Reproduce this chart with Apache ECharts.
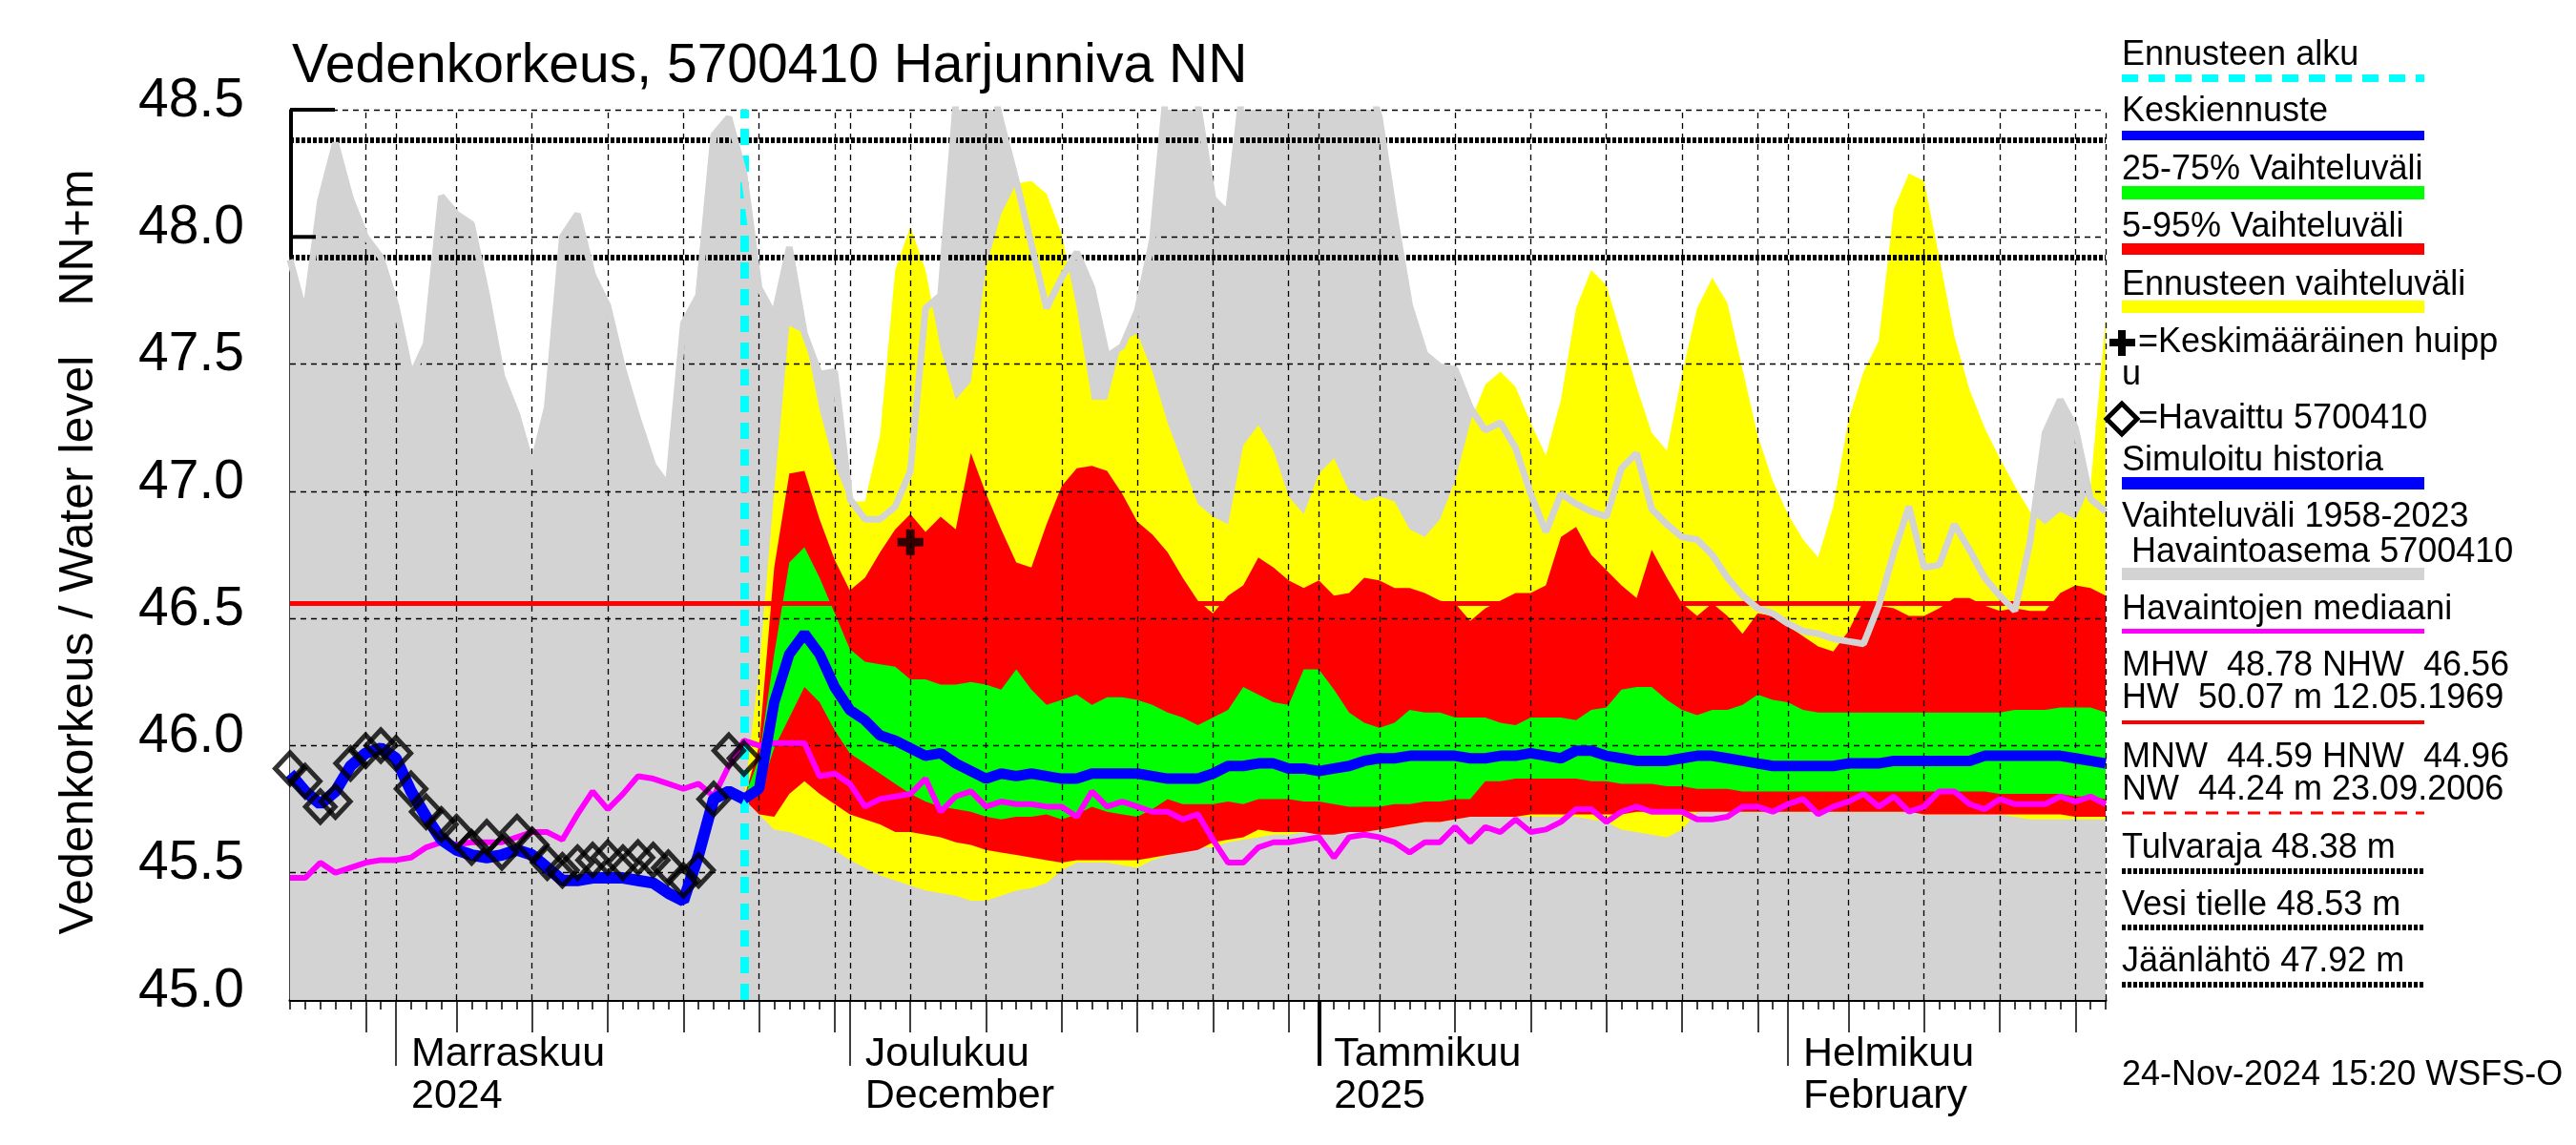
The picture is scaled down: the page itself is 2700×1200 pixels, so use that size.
<!DOCTYPE html>
<html>
<head>
<meta charset="utf-8">
<script src="https://cdn.jsdelivr.net/npm/echarts@6/dist/echarts.min.js"></script>
<style>html,body{margin:0;padding:0;background:#fff}#c{width:2700px;height:1200px}</style>
</head>
<body>
<div id="c"></div>
<script>
// ---- data (day index 0 = 25.10.2024, one value per day) ----
const startDate = '2024-10-25';
const histMax = [
47.91,47.69,48.14,48.37,48.15,48.00,47.92,47.73,47.45,47.58,
48.16,48.09,48.05,47.77,47.45,47.30,47.09,47.33,48.00,48.09,
47.85,47.73,47.48,47.28,47.10,47.02,47.66,47.77,48.40,48.47,
48.25,47.80,47.69,47.96,47.62,47.46,47.47,46.97,46.89,46.89,
46.94,47.08,47.72,47.77,48.52,48.80,48.70,48.45,48.22,47.97,
47.72,47.84,47.94,47.80,47.53,47.57,47.71,47.99,48.63,48.80,
48.52,48.15,48.09,48.60,48.90,49.10,49.00,48.95,48.80,48.85,
48.90,48.67,48.47,48.08,47.73,47.54,47.49,47.48,47.33,47.24,
47.27,47.17,46.99,46.84,46.99,46.95,46.92,46.90,47.09,47.15,
46.93,46.87,46.82,46.81,46.75,46.66,46.59,46.54,46.52,46.48,
46.45,46.44,46.42,46.41,46.40,46.55,46.76,46.94,46.70,46.71,
46.87,46.77,46.66,46.59,46.53,46.80,47.23,47.36,47.25,46.97,
46.92];
const obsMedian = [
45.48,45.48,45.54,45.50,45.52,45.54,45.55,45.55,45.56,45.60,
45.62,45.61,45.62,45.62,45.62,45.64,45.66,45.66,45.63,45.73,
45.82,45.75,45.81,45.88,45.87,45.85,45.83,45.85,45.80,45.92,
46.02,46.00,46.01,46.01,46.01,45.88,45.89,45.85,45.76,45.79,
45.80,45.81,45.87,45.74,45.80,45.82,45.76,45.78,45.77,45.77,
45.76,45.76,45.72,45.82,45.76,45.78,45.76,45.74,45.74,45.71,
45.73,45.63,45.54,45.54,45.60,45.62,45.62,45.63,45.64,45.56,
45.64,45.65,45.64,45.62,45.58,45.62,45.62,45.68,45.62,45.68,
45.66,45.71,45.66,45.67,45.70,45.75,45.75,45.70,45.74,45.76,
45.74,45.74,45.74,45.71,45.71,45.72,45.76,45.76,45.74,45.77,
45.79,45.73,45.76,45.78,45.81,45.76,45.80,45.74,45.76,45.82,
45.82,45.77,45.75,45.79,45.77,45.77,45.77,45.80,45.78,45.80,
45.77];
const simHistory = [
45.89,45.82,45.77,45.82,45.92,45.97,45.99,45.95,45.82,45.72,
45.63,45.59,45.57,45.56,45.57,45.59,45.57,45.52,45.47,45.47,
45.48,45.48,45.48,45.47,45.46,45.42,45.39,45.57,45.79,45.82,
45.79];
const observed = [
45.91,45.86,45.76,45.78,45.93,45.98,46.00,45.97,45.83,45.74,
45.69,45.66,45.60,45.64,45.58,45.66,45.61,45.54,45.51,45.54,
45.55,45.56,45.54,45.56,45.55,45.52,45.47,45.51,45.79,45.98,
45.95];
const fcStartDay = 30;   // 24.11.2024
const fcMedian = [
45.79,45.83,46.17,46.36,46.44,46.36,46.23,46.14,46.10,46.04,
46.02,45.99,45.96,45.97,45.93,45.90,45.87,45.89,45.88,45.89,
45.88,45.87,45.87,45.89,45.89,45.89,45.89,45.88,45.87,45.87,
45.87,45.89,45.92,45.92,45.93,45.93,45.91,45.91,45.90,45.91,
45.92,45.94,45.95,45.95,45.96,45.96,45.96,45.96,45.95,45.95,
45.96,45.96,45.97,45.96,45.95,45.98,45.98,45.96,45.95,45.94,
45.94,45.94,45.95,45.96,45.96,45.95,45.94,45.93,45.92,45.92,
45.92,45.92,45.92,45.93,45.93,45.93,45.94,45.94,45.94,45.94,
45.94,45.94,45.96,45.96,45.96,45.96,45.96,45.96,45.95,45.94,
45.93];
const fcMax = [
45.79,46.30,47.00,47.65,47.62,47.32,47.10,46.96,46.96,47.22,
47.87,48.04,47.87,47.56,47.36,47.43,47.88,48.09,48.21,48.22,
48.17,48.01,47.72,47.36,47.36,47.59,47.62,47.47,47.27,47.11,
46.95,46.90,46.87,47.18,47.26,47.16,46.98,46.91,47.07,47.13,
47.00,46.96,46.98,46.96,46.85,46.82,46.89,47.04,47.27,47.42,
47.47,47.41,47.27,47.14,47.36,47.72,47.87,47.81,47.61,47.41,
47.23,47.16,47.46,47.72,47.84,47.74,47.48,47.22,47.04,46.91,
46.81,46.74,46.94,47.28,47.47,47.59,48.11,48.25,48.22,47.92,
47.61,47.40,47.25,47.13,47.02,46.92,46.87,46.92,46.89,47.02,
47.68];
const fcMin = [
45.79,45.73,45.67,45.66,45.64,45.62,45.59,45.55,45.52,45.49,
45.47,45.45,45.43,45.42,45.41,45.39,45.39,45.41,45.43,45.44,
45.46,45.51,45.54,45.54,45.54,45.53,45.52,45.55,45.57,45.59,
45.60,45.60,45.62,45.63,45.64,45.65,45.65,45.66,45.66,45.66,
45.66,45.66,45.67,45.68,45.69,45.70,45.70,45.71,45.72,45.72,
45.72,45.72,45.72,45.72,45.72,45.72,45.71,45.70,45.67,45.66,
45.65,45.64,45.67,45.74,45.74,45.74,45.74,45.74,45.74,45.74,
45.74,45.74,45.74,45.74,45.74,45.74,45.74,45.74,45.73,45.73,
45.73,45.73,45.73,45.73,45.72,45.71,45.71,45.71,45.71,45.71,
45.71];
const fc95 = [
45.79,46.00,46.70,47.07,47.08,46.89,46.73,46.61,46.66,46.76,
46.85,46.91,46.84,46.90,46.85,47.15,46.99,46.85,46.72,46.70,
46.87,47.02,47.09,47.10,47.08,46.99,46.88,46.83,46.76,46.66,
46.57,46.52,46.59,46.63,46.74,46.70,46.65,46.62,46.65,46.59,
46.60,46.66,46.65,46.62,46.62,46.60,46.57,46.56,46.49,46.54,
46.57,46.60,46.60,46.63,46.82,46.86,46.75,46.69,46.63,46.58,
46.77,46.66,46.56,46.51,46.56,46.51,46.44,46.52,46.51,46.47,
46.43,46.39,46.37,46.45,46.57,46.55,46.54,46.51,46.51,46.54,
46.58,46.58,46.55,46.53,46.54,46.53,46.53,46.60,46.63,46.62,
46.59];
const fc5 = [
45.79,45.73,45.72,45.81,45.86,45.81,45.77,45.73,45.71,45.69,
45.66,45.66,45.65,45.64,45.62,45.61,45.59,45.58,45.57,45.56,
45.55,45.54,45.55,45.55,45.55,45.55,45.55,45.56,45.57,45.58,
45.59,45.62,45.63,45.64,45.67,45.66,45.66,45.66,45.65,45.65,
45.66,45.66,45.67,45.68,45.69,45.70,45.70,45.71,45.72,45.72,
45.72,45.72,45.73,45.73,45.73,45.73,45.73,45.73,45.73,45.74,
45.74,45.74,45.74,45.74,45.74,45.74,45.74,45.74,45.74,45.74,
45.74,45.74,45.74,45.74,45.74,45.74,45.74,45.74,45.73,45.73,
45.73,45.73,45.73,45.73,45.73,45.73,45.73,45.73,45.72,45.72,
45.72];
const fc75 = [
45.79,45.95,46.36,46.72,46.78,46.66,46.52,46.38,46.33,46.32,
46.31,46.26,46.26,46.24,46.24,46.25,46.24,46.22,46.30,46.22,
46.16,46.18,46.20,46.16,46.19,46.19,46.18,46.16,46.13,46.11,
46.08,46.11,46.14,46.23,46.20,46.17,46.16,46.30,46.30,46.22,
46.13,46.09,46.07,46.09,46.14,46.13,46.13,46.11,46.11,46.11,
46.09,46.08,46.11,46.11,46.11,46.10,46.14,46.15,46.22,46.23,
46.23,46.18,46.14,46.12,46.14,46.14,46.16,46.20,46.18,46.17,
46.14,46.13,46.13,46.13,46.13,46.13,46.13,46.13,46.13,46.13,
46.13,46.13,46.13,46.13,46.14,46.14,46.14,46.15,46.15,46.15,
46.13];
const fc25 = [
45.79,45.81,45.99,46.11,46.23,46.17,46.06,45.97,45.93,45.89,
45.85,45.81,45.78,45.76,45.75,45.74,45.72,45.71,45.72,45.72,
45.73,45.71,45.73,45.76,45.74,45.73,45.72,45.75,45.79,45.77,
45.77,45.77,45.78,45.77,45.79,45.79,45.79,45.78,45.78,45.77,
45.76,45.76,45.76,45.77,45.77,45.78,45.78,45.79,45.79,45.86,
45.86,45.87,45.87,45.87,45.87,45.87,45.86,45.86,45.85,45.85,
45.85,45.84,45.84,45.83,45.83,45.83,45.82,45.82,45.82,45.82,
45.82,45.82,45.82,45.82,45.82,45.82,45.82,45.82,45.82,45.82,
45.82,45.82,45.82,45.81,45.81,45.81,45.81,45.81,45.80,45.80,
45.79];
const peakDay = 41, peakLevel = 46.80;      // Keskimääräinen huippu
const nhwLevel = 46.56;                     // NHW
const thresholds = [48.38, 48.53, 47.92];   // Tulvaraja, Vesi tielle, Jäänlähtö
const yMin = 45.0, yMax = 48.5, yStep = 0.5;
const xMax = 120;
const gridDays = [5,7,11,16,21,26,31,36,37,41,46,51,56,61,66,68,72,77,82,87,92,97,99,103,108,113,118,120];
const fiveDayTicks = [5,11,16,21,26,31,36,41,46,51,56,61,66,72,77,82,87,92,97,103,108,113,118];
const monthTicks = [7,37,68,99];
const yearTicks = [68];
const monthLabels = ['Marraskuu\n2024','Joulukuu\nDecember','Tammikuu\n2025','Helmikuu\nFebruary'];
const titleText = 'Vedenkorkeus, 5700410 Harjunniva NN';
const legendRows = [
  'Ennusteen alku','Keskiennuste','25-75% Vaihteluväli','5-95% Vaihteluväli','Ennusteen vaihteluväli',
  '=Keskimääräinen huipp','u','=Havaittu 5700410','Simuloitu historia','Vaihteluväli 1958-2023',' Havaintoasema 5700410',
  'Havaintojen mediaani','MHW  48.78 NHW  46.56','HW  50.07 m 12.05.1969','MNW  44.59 HNW  44.96','NW  44.24 m 23.09.2006',
  'Tulvaraja 48.38 m','Vesi tielle 48.53 m','Jäänlähtö 47.92 m','24-Nov-2024 15:20 WSFS-O'];

// ---- chart ----
const FONT = '"Liberation Sans", Arial, Helvetica, sans-serif';
const C = {grey:'#d3d3d3', yellow:'#ffff00', red:'#ff0000', green:'#00ff00', blue:'#0000ff', magenta:'#ff00ff', cyan:'#00ffff'};
const chart = echarts.init(document.getElementById('c'), null, {width:2700, height:1200});

const pairs = (arr, off) => arr.map((v,i)=>[i+off, v]);
function band(name, lo, hi, color, z) {
  return {type:'custom', name:name, z:z, silent:true, clip:true, coordinateSystem:'cartesian2d',
    data:[[fcStartDay, lo[0]]], encode:{x:0, y:1},
    renderItem:(params, api) => {
      const pts = [];
      for (let i = 0; i < hi.length; i++) pts.push(api.coord([fcStartDay + i, hi[i]]));
      for (let i = lo.length - 1; i >= 0; i--) pts.push(api.coord([fcStartDay + i, lo[i]]));
      return {type:'polygon', shape:{points:pts}, style:{fill:color}};
    }};
}
const noSym = ['none','none'];
const yGrid = [];
for (let v = yMin + yStep; v <= yMax + 1e-9; v += yStep) yGrid.push(+v.toFixed(2));

const series = [
  {type:'line', name:'histArea', z:1, data:pairs(histMax,0), symbol:'none', lineStyle:{width:0, opacity:0},
   areaStyle:{color:C.grey, opacity:1, origin:'start'}, silent:true},
  band('yel', fcMin, fcMax, C.yellow, 2),
  band('red', fc5, fc95, C.red, 2),
  band('grn', fc25, fc75, C.green, 2),
  {type:'line', name:'grid', z:3, data:[], silent:true,
   markLine:{silent:true, symbol:noSym, animation:false, label:{show:false},
     lineStyle:{color:'#000', width:1.3, type:[6,5]},
     data:[...gridDays.map(d=>({xAxis:d})), ...yGrid.map(v=>({yAxis:v}))]}},
  {type:'line', name:'levels', z:4, data:[], silent:true,
   markLine:{silent:true, symbol:noSym, animation:false, label:{show:false},
     data:[
       ...thresholds.filter(t=>t<=yMax).map(t=>({yAxis:t, lineStyle:{color:'#000', width:6, type:[4,2]}})),
       {yAxis:nhwLevel, lineStyle:{color:C.red, width:5, type:'solid'}}
     ]}},
  {type:'line', name:'histMaxLine', z:5, data:pairs(histMax,0), symbol:'none', lineStyle:{color:C.grey, width:7}, silent:true},
  {type:'line', name:'median', z:6, data:pairs(obsMedian,0), symbol:'none', lineStyle:{color:C.magenta, width:6}, silent:true},
  {type:'line', name:'sim', z:7, data:pairs(simHistory,0), symbol:'none', lineStyle:{color:C.blue, width:12}, silent:true},
  {type:'line', name:'fc', z:7, data:pairs(fcMedian,fcStartDay), symbol:'none', lineStyle:{color:C.blue, width:11}, silent:true},
  {type:'line', name:'fcStart', z:8, data:[], silent:true,
   markLine:{silent:true, symbol:noSym, animation:false, label:{show:false},
     lineStyle:{color:C.cyan, width:9, type:[17,11]}, data:[{xAxis:fcStartDay}]}},
  {type:'scatter', name:'obs', z:9, data:pairs(observed,0), symbol:'diamond', symbolSize:[31,33],
   itemStyle:{color:'rgba(0,0,0,0)', borderColor:'#000', borderWidth:5}, silent:true},
  {type:'scatter', name:'peak', z:10, data:[[peakDay, peakLevel]], symbol:'path://M3,0h3v3h3v3h-3v3h-3v-3h-3v-3h3z', symbolSize:27,
   itemStyle:{color:'#000'}, silent:true}
];

const baseX = {type:'value', min:0, max:xMax, gridIndex:0, position:'bottom', splitLine:{show:false}};
const option = {
  animation:false,
  backgroundColor:'#fff',
  textStyle:{fontFamily:FONT},
  grid:{left:304, top:115, right:493, bottom:152, containLabel:false},
  xAxis:[
    Object.assign({}, baseX, {interval:1,
      axisLine:{show:true, onZero:false, lineStyle:{color:'#000', width:3}},
      axisTick:{show:true, length:10, lineStyle:{color:'#000', width:1.5}},
      axisLabel:{show:false}}),
    Object.assign({}, baseX, {axisLine:{show:false, onZero:false},
      axisTick:{show:true, length:34, customValues:fiveDayTicks, lineStyle:{color:'#000', width:1.5}},
      axisLabel:{show:false}}),
    Object.assign({}, baseX, {axisLine:{show:false, onZero:false},
      axisTick:{show:true, length:69, customValues:monthTicks, lineStyle:{color:'#000', width:1.5}},
      axisLabel:{show:true, customValues:monthTicks, formatter:(v)=>monthLabels[monthTicks.indexOf(v)],
        align:'left', verticalAlign:'top', fontSize:43, lineHeight:44, color:'#000', fontFamily:FONT,
        margin:35, padding:[0,0,0,16]}}),
    Object.assign({}, baseX, {axisLine:{show:false, onZero:false},
      axisTick:{show:true, length:69, customValues:yearTicks, lineStyle:{color:'#000', width:4}},
      axisLabel:{show:false}})
  ],
  yAxis:{type:'value', min:yMin, max:yMax, interval:yStep,
    axisLine:{show:true, lineStyle:{color:'#000', width:1.5}},
    axisTick:{show:true, inside:true, length:47, lineStyle:{color:'#000', width:1.5}},
    axisLabel:{fontSize:57, color:'#000', fontFamily:FONT, margin:48, verticalAlign:'bottom', lineHeight:18,
      formatter:(v)=>v.toFixed(1)},
    splitLine:{show:false}},
  series: series
};
chart.setOption(option);

// ---- decorations: title, axis name, legend ----
const px = (x,y)=>chart.convertToPixel({xAxisIndex:0, yAxisIndex:0}, [x,y]);
const pTop = px(0, yMax), p48 = px(0, 48.0), pJ = px(0, thresholds[2]);
const g = [];
const txt = (s, x, y, size, extra) => g.push(Object.assign({type:'text', z:100, style:{text:s, x:x, y:y, fill:'#000',
  font: size+'px '+FONT, textAlign:'left', textVerticalAlign:'middle', align:'left', verticalAlign:'middle'}}, extra||{}));
const rect = (x,y,w,h,fill) => g.push({type:'rect', z:100, shape:{x:x,y:y,width:w,height:h}, style:{fill:fill}});
const ln = (x1,y1,x2,y2,stroke,w,dash) => g.push({type:'line', z:100, shape:{x1:x1,y1:y1,x2:x2,y2:y2},
  style:{stroke:stroke, lineWidth:w, lineDash:dash||null}});

// axis bracket
ln(pTop[0], pTop[1], pTop[0]+47, pTop[1], '#000', 4);
ln(p48[0], p48[1], p48[0]+27, p48[1], '#000', 4);
ln(pTop[0]+1, pTop[1], pTop[0]+1, pJ[1], '#000', 4);

// title
txt(titleText, 306, 70, 57);
// y axis name
const rot = (s, x, y) => g.push({type:'text', z:100, x:x, y:y, rotation:Math.PI/2,
  style:{text:s, x:0, y:0, fill:'#000', font:'50px '+FONT, textAlign:'center', textVerticalAlign:'middle', align:'center', verticalAlign:'middle'}});
rot('Vedenkorkeus / Water level', 83, 676);
rot('NN+m', 83, 249);

// legend
const LX = 2224, LW = 317, FS = 36;
const rowY = [58,117,178,238,299,359,393,439,483,542,579,639,698,732,794,828,889,949,1008,1127];
legendRows.forEach((s,i)=>{
  let x = LX;
  if (i===5 || i===7) x = 2241;
  txt(s, x, rowY[i], FS);
});
ln(LX, 82, LX+LW, 82, C.cyan, 8, [17,11]);
rect(LX, 137, LW, 10, C.blue);
rect(LX, 195, LW, 14, C.green);
rect(LX, 255, LW, 12, C.red);
rect(LX, 315, LW, 13, C.yellow);
// plus
rect(2211, 355, 27, 8, '#000'); rect(2220, 346, 8, 27, '#000');
// diamond
g.push({type:'polygon', z:100, shape:{points:[[2224,423],[2240,439],[2224,455],[2208,439]]}, style:{fill:'none', stroke:'#000', lineWidth:5}});
rect(LX, 500, LW, 13, C.blue);
rect(LX, 595, LW, 13, C.grey);
rect(LX, 659, LW, 5, C.magenta);
rect(LX, 755, LW, 4, C.red);
ln(LX, 852, LX+LW, 852, C.red, 3, [13,9]);
ln(LX, 913, LX+LW, 913, '#000', 6, [4,2]);
ln(LX, 972, LX+LW, 972, '#000', 6, [4,2]);
ln(LX, 1032, LX+LW, 1032, '#000', 6, [4,2]);

chart.setOption({graphic:{elements:g}});
</script>
</body>
</html>
